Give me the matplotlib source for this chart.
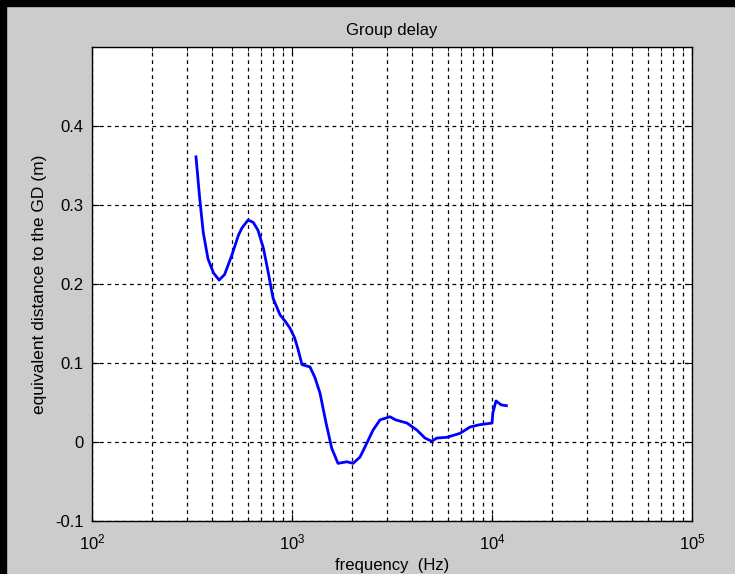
import numpy as np
import matplotlib.pyplot as plt
from matplotlib.patches import Rectangle

plt.rcParams['font.family'] = ['Liberation Sans', 'DejaVu Sans']

# group delay curve
freq = [331, 345, 360, 380, 405, 432, 460, 501, 540, 562, 603, 640, 676,
        720, 760, 804, 871, 930, 977, 1030, 1070, 1122, 1230, 1300, 1380,
        1480, 1580, 1698, 1880, 2020, 2188, 2371, 2541, 2754, 3090, 3300,
        3758, 4217, 4624, 4989, 5300, 5957, 6918, 7762, 8710, 10000, 10100,
        10471, 11117, 11803]
gd = [0.361, 0.31, 0.265, 0.232, 0.214, 0.205, 0.212, 0.237, 0.262, 0.271,
      0.281, 0.278, 0.268, 0.245, 0.215, 0.182, 0.161, 0.152, 0.144, 0.132,
      0.118, 0.098, 0.095, 0.082, 0.062, 0.024, -0.008, -0.027, -0.025,
      -0.027, -0.019, -0.001, 0.015, 0.028, 0.032, 0.028, 0.024, 0.015,
      0.005, 0.001, 0.005, 0.006, 0.011, 0.019, 0.022, 0.024, 0.037, 0.052,
      0.047, 0.046]
yticks = [-0.1, 0, 0.1, 0.2, 0.3, 0.4]

fig = plt.figure(figsize=(7.35, 5.74), dpi=100, facecolor='#cccccc')
fig.patches.append(Rectangle((0, 0.989), 1, 0.011, transform=fig.transFigure,
                             color='black', zorder=-1))
fig.patches.append(Rectangle((0, 0), 0.0085, 1, transform=fig.transFigure,
                             color='black', zorder=-1))

ax = fig.add_axes([0.1252, 0.0923, 0.8163, 0.8258])
ax.plot(freq, gd, color='blue', lw=2)
ax.set_xscale('log')
ax.set_xlim(100, 100000)
ax.set_ylim(-0.1, 0.5)
ax.set_yticks(yticks)
ax.set_yticklabels(['-0.1', '0', '0.1', '0.2', '0.3', '0.4'])

ax.grid(True, which='major', axis='both', color='black', ls=(0, (3, 3)), lw=0.9)
ax.grid(True, which='minor', axis='x', color='black', ls=(0, (3, 3)), lw=0.9)
ax.tick_params(which='both', direction='in', top=True, right=True, labelsize=12)
ax.tick_params(which='major', length=5)
ax.tick_params(which='minor', length=3)
ax.tick_params(axis='x', which='major', pad=8)
ax.tick_params(axis='y', which='major', pad=6)
for s in ax.spines.values():
    s.set_linewidth(1)

ax.set_title('Group delay', fontsize=12, pad=9)
ax.set_xlabel('frequency  (Hz)', fontsize=12, labelpad=4)
ax.set_ylabel('equivalent distance to the GD (m)', fontsize=12.5, labelpad=6)

fig.savefig('out.png', dpi=100, facecolor=fig.get_facecolor())
